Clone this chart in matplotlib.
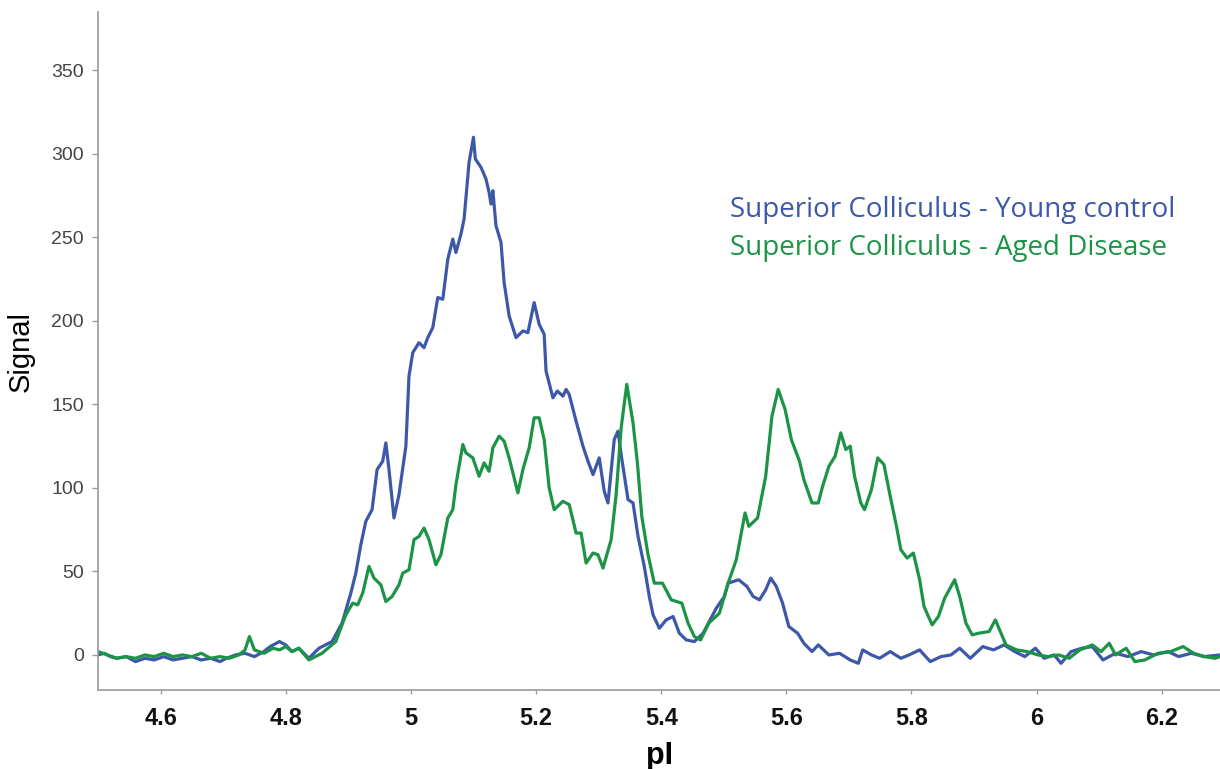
import matplotlib.pyplot as plt

# pI positions and signal, blue trace
young_pi = [4.500, 4.510, 4.520, 4.530, 4.545, 4.560, 4.575, 4.590, 4.605, 4.620,
            4.635, 4.650, 4.665, 4.680, 4.695, 4.705, 4.720, 4.735, 4.750, 4.765,
            4.775, 4.790, 4.800, 4.810, 4.821, 4.837, 4.853, 4.874, 4.890, 4.904,
            4.912, 4.920, 4.928, 4.938, 4.946, 4.955, 4.960, 4.965, 4.973, 4.981,
            4.992, 4.997, 5.003, 5.013, 5.021, 5.027, 5.035, 5.043, 5.051, 5.059,
            5.067, 5.072, 5.080, 5.085, 5.093, 5.100, 5.103, 5.112, 5.120, 5.125,
            5.128, 5.131, 5.136, 5.144, 5.149, 5.157, 5.168, 5.179, 5.187, 5.197,
            5.205, 5.213, 5.216, 5.227, 5.234, 5.243, 5.248, 5.253, 5.264, 5.275,
            5.283, 5.291, 5.301, 5.309, 5.315, 5.325, 5.331, 5.336, 5.347, 5.355,
            5.363, 5.373, 5.381, 5.387, 5.397, 5.408, 5.419, 5.429, 5.440, 5.453,
            5.467, 5.488, 5.501, 5.507, 5.524, 5.537, 5.547, 5.557, 5.567, 5.575,
            5.584, 5.594, 5.604, 5.618, 5.628, 5.641, 5.651, 5.668, 5.685, 5.702,
            5.715, 5.722, 5.736, 5.749, 5.766, 5.783, 5.796, 5.813, 5.830, 5.847,
            5.863, 5.877, 5.894, 5.914, 5.931, 5.948, 5.965, 5.981, 5.998, 6.012,
            6.028, 6.039, 6.055, 6.072, 6.089, 6.106, 6.126, 6.146, 6.167, 6.187,
            6.210, 6.227, 6.247, 6.268, 6.293]
young_sig = [0, 1, -1, -2, -1, -4, -2, -3, -1, -3,
             -2, -1, -3, -2, -4, -2, 0, 1, -1, 2,
             5, 8, 6, 2, 4, -2, 4, 8, 19, 37,
             49, 66, 80, 87, 111, 116, 127, 111, 82, 96,
             125, 167, 181, 187, 184, 190, 196, 214, 213, 237,
             249, 241, 252, 261, 295, 310, 297, 292, 285, 277,
             270, 278, 257, 247, 223, 203, 190, 194, 193, 211,
             198, 192, 170, 154, 158, 155, 159, 156, 140, 125,
             116, 108, 118, 98, 91, 129, 134, 120, 93, 91,
             71, 53, 35, 24, 16, 21, 23, 13, 9, 8,
             13, 28, 35, 43, 45, 41, 35, 33, 39, 46,
             41, 31, 17, 13, 7, 2, 6, 0, 1, -3,
             -5, 3, 0, -2, 2, -2, 0, 3, -4, -1,
             0, 4, -2, 5, 3, 6, 2, -1, 4, -2,
             0, -5, 2, 4, 5, -3, 1, -1, 2, 0,
             2, -1, 1, -1, 0]

# green trace
aged_pi = [4.500, 4.515, 4.530, 4.545, 4.560, 4.575, 4.590, 4.605, 4.620, 4.635,
           4.650, 4.665, 4.680, 4.695, 4.710, 4.725, 4.735, 4.742, 4.750, 4.765,
           4.780, 4.790, 4.800, 4.810, 4.821, 4.837, 4.858, 4.880, 4.896, 4.907,
           4.915, 4.923, 4.933, 4.941, 4.952, 4.960, 4.970, 4.981, 4.987, 4.997,
           5.005, 5.013, 5.021, 5.029, 5.040, 5.048, 5.059, 5.067, 5.072, 5.083,
           5.088, 5.099, 5.109, 5.117, 5.125, 5.131, 5.141, 5.149, 5.157, 5.171,
           5.179, 5.189, 5.197, 5.205, 5.213, 5.221, 5.229, 5.243, 5.253, 5.264,
           5.272, 5.280, 5.291, 5.299, 5.307, 5.320, 5.328, 5.336, 5.345, 5.355,
           5.362, 5.369, 5.379, 5.389, 5.402, 5.416, 5.433, 5.443, 5.453, 5.463,
           5.476, 5.493, 5.507, 5.520, 5.534, 5.540, 5.554, 5.567, 5.577, 5.587,
           5.598, 5.608, 5.621, 5.628, 5.641, 5.651, 5.658, 5.668, 5.678, 5.687,
           5.695, 5.702, 5.709, 5.719, 5.725, 5.736, 5.746, 5.756, 5.766, 5.776,
           5.783, 5.793, 5.803, 5.813, 5.820, 5.833, 5.843, 5.853, 5.869, 5.877,
           5.887, 5.897, 5.907, 5.924, 5.934, 5.943, 5.951, 5.968, 5.985, 6.002,
           6.018, 6.035, 6.052, 6.069, 6.089, 6.103, 6.116, 6.126, 6.143, 6.157,
           6.173, 6.194, 6.214, 6.234, 6.251, 6.268, 6.285, 6.293]
aged_sig = [2, 0, -2, -1, -2, 0, -1, 1, -1, 0,
            -1, 1, -2, -1, -2, 0, 3, 11, 3, 1,
            4, 3, 5, 2, 4, -3, 1, 8, 24, 31,
            30, 37, 53, 46, 42, 32, 35, 42, 49, 51,
            69, 71, 76, 69, 54, 60, 82, 87, 102, 126,
            121, 118, 107, 115, 110, 124, 131, 128, 118, 97,
            111, 124, 142, 142, 129, 100, 87, 92, 90, 73,
            73, 55, 61, 60, 52, 69, 96, 136, 162, 139,
            115, 83, 60, 43, 43, 33, 31, 19, 11, 9,
            19, 25, 43, 57, 85, 77, 82, 107, 143, 159,
            147, 129, 116, 105, 91, 91, 101, 113, 119, 133,
            123, 125, 107, 91, 87, 99, 118, 114, 95, 77,
            63, 58, 61, 45, 29, 18, 23, 34, 45, 35,
            19, 12, 13, 14, 21, 13, 6, 3, 2, 0,
            -1, 0, -2, 3, 6, 2, 7, 0, 4, -4,
            -3, 1, 2, 5, 1, -1, -2, -1]

x_ticks = [4.6, 4.8, 5.0, 5.2, 5.4, 5.6, 5.8, 6.0, 6.2]
x_tick_labels = ['4.6', '4.8', '5', '5.2', '5.4', '5.6', '5.8', '6', '6.2']
y_ticks = [0, 50, 100, 150, 200, 250, 300, 350]

blue = '#3d58a8'
green = '#1c9445'

fig = plt.figure(figsize=(12.2, 7.69), dpi=100)
ax = fig.add_axes([98 / 1220, 79 / 769, 1 - 98 / 1220, 678 / 769])

ax.plot(young_pi, young_sig, color=blue, linewidth=2.3)
ax.plot(aged_pi, aged_sig, color=green, linewidth=2.3)

ax.set_xlim(4.5, 6.293)
ax.set_ylim(-21, 385)

for side in ['top', 'right']:
    ax.spines[side].set_visible(False)
for side in ['left', 'bottom']:
    ax.spines[side].set_color('#9a9a9a')
    ax.spines[side].set_linewidth(1.2)

ax.set_xticks(x_ticks)
ax.set_xticklabels(x_tick_labels, fontsize=17, family='Liberation Sans',
                   color='#111111', fontweight='bold')
ax.set_yticks(y_ticks)
ax.set_yticklabels([str(v) for v in y_ticks], fontsize=14, family='Liberation Sans',
                   color='#444444')
ax.tick_params(axis='x', length=3, width=1, color='#9a9a9a', pad=9)
ax.tick_params(axis='y', length=4, width=1, color='#9a9a9a', pad=6)

ax.set_xlabel('pI', fontsize=22, family='Liberation Sans', fontweight='bold', labelpad=8)
ax.set_ylabel('Signal', fontsize=21, family='Liberation Sans', labelpad=12)

fig.text(730 / 1220, 1 - 210 / 769, 'Superior Colliculus - Young control',
         color=blue, fontsize=20, family='Open Sans', va='center', ha='left')
fig.text(730 / 1220, 1 - 248 / 769, 'Superior Colliculus - Aged Disease',
         color=green, fontsize=20, family='Open Sans', va='center', ha='left')

fig.savefig('out.png', dpi=100)
